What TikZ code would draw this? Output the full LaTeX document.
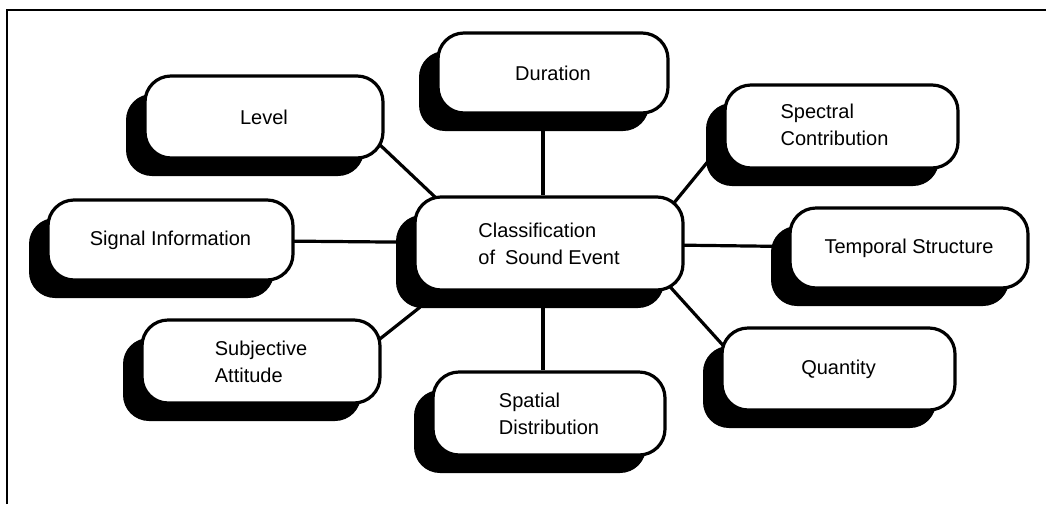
\documentclass[tikz,border=0pt]{standalone}
\usepackage{fontspec}
\setmainfont{Liberation Sans}
\usetikzlibrary{shadows}
\pgfdeclarelayer{background}
\pgfsetlayers{background,main}
\begin{document}
\begin{tikzpicture}[x=1pt,y=-1pt,
  box/.style={draw=black, line width=3.2pt, fill=white, rounded corners=26pt,
    inner sep=0pt, font=\fontsize{20}{27}\selectfont,
    drop shadow={shadow xshift=-19pt, shadow yshift=-18pt, fill=black, opacity=1}},
  conn/.style={draw=black, line width=3.2pt},
  frame/.style={draw=black, line width=2.4pt}]
\useasboundingbox (0,0) rectangle (1046,504);

\node[box, minimum width=238pt, minimum height=82pt, align=center] (lev) at (264,117) {Level};
\node[box, minimum width=230pt, minimum height=80pt, align=center] (dur) at (553,73) {Duration};
\node[box, minimum width=233pt, minimum height=83pt, align=left] (spc) at (841.5,126.5) {\hspace*{-14pt}\begin{tabular}{@{}l@{}}Spectral\\Contribution\end{tabular}};
\node[box, minimum width=245pt, minimum height=80pt, align=center] (sig) at (170.5,240) {Signal Information};
\node[box, minimum width=268pt, minimum height=93pt, align=left] (cen) at (549,243.5) {Classification\\of\enspace Sound Event};
\node[box, minimum width=238pt, minimum height=80pt, align=center] (tmp) at (909,248) {Temporal Structure};
\node[box, minimum width=238pt, minimum height=83pt, align=left] (sub) at (261,361.5) {Subjective\\Attitude};
\node[box, minimum width=232pt, minimum height=83pt, align=left] (spa) at (549,413.5) {Spatial\\Distribution};
\node[box, minimum width=233pt, minimum height=82pt, align=center] (qty) at (838.5,369) {Quantity};

\begin{pgfonlayer}{background}
\fill[white] (0,0) rectangle (1046,504);
\draw[frame] (7,504) -- (7,10) -- (1046,10);
\draw[conn] ([shift={(-23,10.5)}]lev.east) -- ([shift={(40,19)}]cen.north west);
\draw[conn] ([xshift=-10pt]dur.south) -- ([xshift=-6pt]cen.north);
\draw[conn] ([shift={(9,-38)}]spc.south west) -- ([shift={(-27,27.5)}]cen.north east);
\draw[conn] (sig.center) -- (cen.center);
\draw[conn] (cen.center) -- (tmp.center);
\draw[conn] ([shift={(-22,-6.5)}]sub.east) -- ([shift={(49,-18)}]cen.south west);
\draw[conn] ([xshift=-6pt]cen.south) -- ([xshift=-6pt]spa.north);
\draw[conn] ([shift={(-31,-23)}]cen.south east) -- ([shift={(19.5,-5)}]qty.west);
\end{pgfonlayer}
\end{tikzpicture}
\end{document}
